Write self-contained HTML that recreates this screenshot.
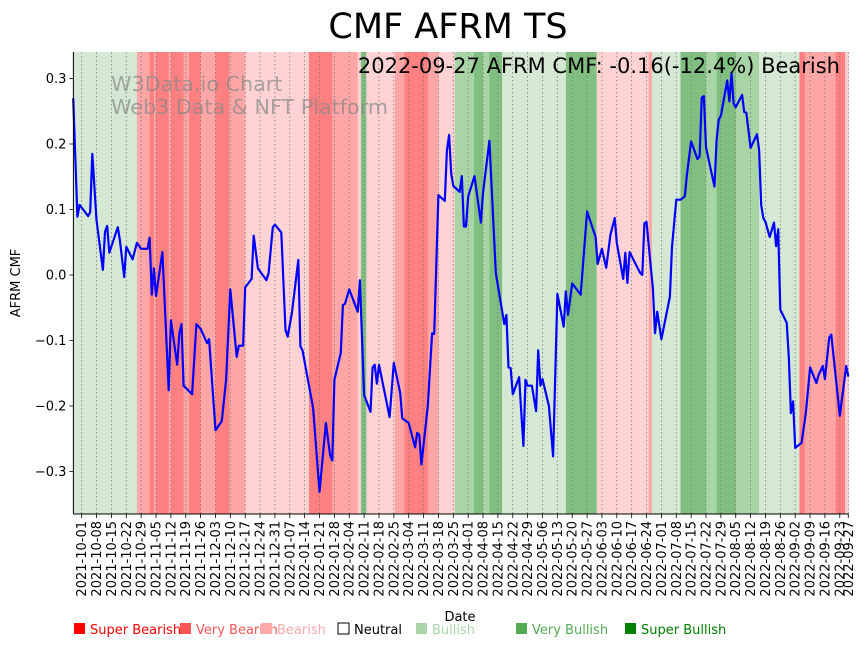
<!DOCTYPE html>
<html><head><meta charset="utf-8">
<style>
body{margin:0;background:#fff;}
svg{display:block;font-family:"DejaVu Sans","Liberation Sans",sans-serif;}
</style></head>
<body>
<svg id="chart" width="867" height="646" viewBox="0 0 867 646" xmlns="http://www.w3.org/2000/svg">
<g id="bands"></g>
<g id="grid"></g>
<text x="111" y="91" font-size="20.7" fill="#888" fill-opacity="0.7">W3Data.io Chart</text>
<text x="111" y="114" font-size="20.7" fill="#888" fill-opacity="0.7">Web3 Data &amp; NFT Platform</text>
<path id="line" fill="none" stroke="#0000ff" stroke-width="2.2" stroke-linejoin="round"></path>
<g id="axes"></g>
<text x="448" y="38" font-size="35" text-anchor="middle" fill="#000">CMF AFRM TS</text>
<text x="840" y="73" font-size="21" text-anchor="end" fill="#000">2022-09-27 AFRM CMF: -0.16(-12.4%) Bearish</text>
<text transform="translate(20,283) rotate(-90)" font-size="13" text-anchor="middle">AFRM CMF</text>
<text x="460" y="621" font-size="13" text-anchor="middle">Date</text>
<g id="legend"></g>
</svg>
<script>
// Data: days offset from 2021-10-01
const days = [-4,-2,-1,3,4,5,7,10,11,12,13,17,18,20,21,24,26,28,31,32,33,34,35,38,41,42,45,46,47,48,52,54,56,59,60,63,66,68,70,73,74,76,77,80,81,83,87,88,90,91,94,96,97,99,102,103,104,109,112,115,117,118,119,122,123,124,126,130,131,133,136,137,138,139,140,145,147,150,151,154,157,158,159,160,163,165,166,168,171,172,173,174,175,178,179,180,181,182,185,188,189,192,195,199,200,201,202,203,206,208,209,210,212,214,215,216,217,220,222,224,227,228,229,231,235,238,242,243,245,247,249,251,252,255,256,257,258,263,264,265,266,269,270,271,273,277,278,280,282,284,285,287,290,291,292,293,294,298,299,300,301,304,305,306,307,308,311,312,313,315,318,319,320,321,322,324,326,327,328,329,332,333,334,335,336,339,341,343,346,347,349,350,352,353,357,360,361];
const cmf = [0.27,0.089,0.107,0.09,0.096,0.185,0.084,0.008,0.066,0.075,0.034,0.073,0.053,-0.003,0.043,0.024,0.049,0.04,0.04,0.057,-0.03,0.01,-0.032,0.035,-0.176,-0.069,-0.137,-0.089,-0.075,-0.169,-0.182,-0.075,-0.082,-0.104,-0.098,-0.237,-0.223,-0.16,-0.022,-0.125,-0.108,-0.108,-0.019,-0.006,0.06,0.01,-0.008,0.003,0.073,0.077,0.065,-0.084,-0.094,-0.058,0.023,-0.109,-0.115,-0.203,-0.331,-0.226,-0.275,-0.283,-0.16,-0.119,-0.046,-0.044,-0.022,-0.056,-0.008,-0.183,-0.209,-0.141,-0.137,-0.166,-0.137,-0.217,-0.134,-0.18,-0.219,-0.226,-0.263,-0.241,-0.244,-0.289,-0.2,-0.089,-0.09,0.122,0.113,0.19,0.214,0.155,0.136,0.127,0.151,0.074,0.074,0.12,0.151,0.08,0.125,0.205,0.003,-0.075,-0.061,-0.141,-0.142,-0.182,-0.156,-0.261,-0.16,-0.169,-0.169,-0.208,-0.115,-0.169,-0.159,-0.2,-0.277,-0.029,-0.079,-0.025,-0.061,-0.013,-0.03,0.097,0.058,0.017,0.04,0.011,0.061,0.087,0.049,-0.006,0.034,-0.012,0.035,0.003,0,0.079,0.081,-0.021,-0.089,-0.056,-0.098,-0.033,0.043,0.115,0.115,0.12,0.153,0.204,0.177,0.181,0.271,0.273,0.195,0.135,0.206,0.237,0.243,0.297,0.265,0.309,0.262,0.256,0.275,0.249,0.248,0.194,0.215,0.191,0.107,0.087,0.081,0.058,0.08,0.044,0.07,-0.053,-0.073,-0.125,-0.211,-0.193,-0.264,-0.256,-0.211,-0.141,-0.165,-0.153,-0.139,-0.159,-0.096,-0.091,-0.215,-0.139,-0.155];
const bandStarts = [-4,26,32,34,35,41,42,48,50.5,56,63,69.5,77,107,118,130,131.5,134,147.5,152,163,168,175.7,184.7,189,192,198,228,242.5,267,268.5,282,294,299,308,319,338,340.5,355,359.5];
const bandTypes = ["bull","vbear","sbear","vbear","sbear","vbear","sbear","vbear","sbear","vbear","sbear","vbear","bear","sbear","vbear","bear","sbull","bear","vbear","sbear","vbear","bear","vbull","sbull","vbull","sbull","bull","sbull","bear","vbear","bull","sbull","vbull","sbull","vbull","bull","sbear","vbear","sbear","bear"];
const yTicks = [0.3,0.2,0.1,0.0,-0.1,-0.2,-0.3];
const yTickLabels = ["0.3","0.2","0.1","0.0","\u22120.1","\u22120.2","\u22120.3"];
const xTickLabels = ["2021-10-01","2021-10-08","2021-10-15","2021-10-22","2021-10-29","2021-11-05","2021-11-12","2021-11-19","2021-11-26","2021-12-03","2021-12-10","2021-12-17","2021-12-24","2021-12-31","2022-01-07","2022-01-14","2022-01-21","2022-01-28","2022-02-04","2022-02-11","2022-02-18","2022-02-25","2022-03-04","2022-03-11","2022-03-18","2022-03-25","2022-04-01","2022-04-08","2022-04-15","2022-04-22","2022-04-29","2022-05-06","2022-05-13","2022-05-20","2022-05-27","2022-06-03","2022-06-10","2022-06-17","2022-06-24","2022-07-01","2022-07-08","2022-07-15","2022-07-22","2022-07-29","2022-08-05","2022-08-12","2022-08-19","2022-08-26","2022-09-02","2022-09-09","2022-09-16","2022-09-23","2022-09-27"];
const legendLabels = ["Super Bearish","Very Bearish","Bearish","Neutral","Bullish","Very Bullish","Super Bullish"];

const NS="http://www.w3.org/2000/svg";
const L=73.4,R=848.7,T=52,B=514;
const D0=-3.9,D1=361.2;
const xS=d=>L+(d-D0)/(D1-D0)*(R-L);
const yS=v=>275-v*655;
const base=new Date(Date.UTC(2021,9,1));
const dayOf=s=>{const p=s.split('-');return (Date.UTC(+p[0],+p[1]-1,+p[2])-base)/86400000;};
const bandColor={sbear:"#ff8080",vbear:"#ffa6a6",bear:"#ffd3d3",bull:"#d5e8d4",vbull:"#a9d4a5",sbull:"#80bf80"};
function mk(tag,attrs,parent){const e=document.createElementNS(NS,tag);for(const k in attrs)e.setAttribute(k,attrs[k]);parent.appendChild(e);return e;}

const gB=document.getElementById('bands');
for(let i=0;i<bandStarts.length;i++){
  const s=bandStarts[i], e=i+1<bandStarts.length?bandStarts[i+1]:D1;
  const r=mk('rect',{x:xS(s),y:T,width:xS(e)-xS(s)+0.3,height:B-T,fill:bandColor[bandTypes[i]]},gB);
  
  
}
const gG=document.getElementById('grid');
const gA=document.getElementById('axes');
xTickLabels.forEach(lbl=>{
  const x=xS(dayOf(lbl));
  const g=mk('line',{x1:x,x2:x,y1:T,y2:B,stroke:"#7a7a7a","stroke-width":0.8,"stroke-dasharray":"1.5,2.5"},gG);
  
  
  const t=mk('line',{x1:x,x2:x,y1:B,y2:B+4,stroke:"#000","stroke-width":0.8},gA);
  
  
  const tx=mk('text',{transform:`translate(${x+4.5},${B+7}) rotate(-90)`,"font-size":13,"text-anchor":"end",fill:"#000"},gA);
  tx.textContent=lbl;
  
  
});
yTicks.forEach((v,i)=>{
  const y=yS(v);
  const t=mk('line',{x1:L-4,x2:L,y1:y,y2:y,stroke:"#000","stroke-width":0.8},gA);
  
  
  const tx=mk('text',{x:L-7,y:y+4.5,"font-size":13,"text-anchor":"end",fill:"#000"},gA);
  tx.textContent=yTickLabels[i];
  
  
});
const ax1=mk('line',{x1:L,x2:L,y1:T,y2:B,stroke:"#000","stroke-width":1},gA);


const ax2=mk('line',{x1:L,x2:R,y1:B,y2:B,stroke:"#000","stroke-width":1},gA);



document.getElementById('line').setAttribute('d',days.map((d,i)=>(i?'L':'M')+xS(d).toFixed(1)+','+yS(cmf[i]).toFixed(1)).join(''));

const legColors=["#ff0000","#ff5555","#ffaaaa","#ffffff","#aad4aa","#55aa55","#008000"];
const legText=["#ff0000","#ff5555","#ffaaaa","#000000","#aad4aa","#55aa55","#008000"];
const legX=[74,180,261,338,416,516,625];
const gL=document.getElementById('legend');
legendLabels.forEach((lbl,i)=>{
  const r=mk('rect',{x:legX[i],y:623,width:11,height:11,fill:legColors[i],stroke:i==3?"#000":"none","stroke-width":1},gL);
  
  
  const t=mk('text',{x:legX[i]+16,y:634,"font-size":13,fill:legText[i]},gL);
  t.textContent=lbl;
  
  
});
</script>
</body></html>
